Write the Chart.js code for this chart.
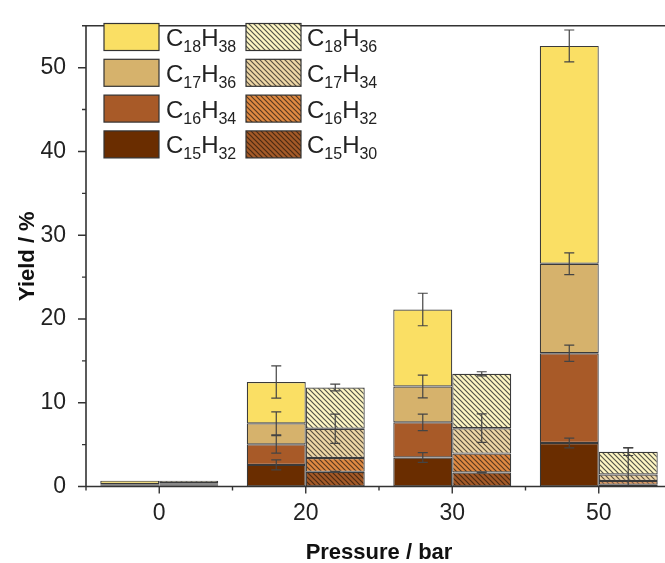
<!DOCTYPE html>
<html><head><meta charset="utf-8">
<script src="https://cdn.jsdelivr.net/npm/chart.js@4.4.0/dist/chart.umd.min.js"></script>
<style>
html,body{margin:0;padding:0;background:#fff;overflow:hidden;}
#wrap{width:680px;height:563px;position:relative;}
</style></head><body>
<div id="wrap"><canvas id="c" width="680" height="563"></canvas></div>
<script>
// ---- data ----
const categories = ['0', '20', '30', '50'];
const seriesNames = ['C15H32', 'C16H34', 'C17H36', 'C18H38', 'C15H30', 'C16H32', 'C17H34', 'C18H36'];
const yTickValues = [0, 10, 20, 30, 40, 50];

// saturated (left bar of each pair)
const C15H32 = [0.10, 2.58, 3.47, 5.2];
const C16H34 = [0.10, 2.45, 4.19, 10.7];
const C17H36 = [0.10, 2.51, 4.27, 10.7];
const C18H38 = [0.40, 4.94, 9.20, 26.0];
// unsaturated (right bar of each pair)
const C15H30 = [0.10, 1.75, 1.67, 0.20];
const C16H32 = [0.10, 1.65, 2.26, 0.46];
const C17H34 = [0.20, 3.49, 3.03, 0.78];
const C18H36 = [0.30, 4.93, 6.49, 2.71];
// error bars (drawn at top of each stacked segment)
const err_C15H32 = [0, 0.6, 0.58, 0.58];
const err_C16H34 = [0, 1.05, 0.98, 0.97];
const err_C17H36 = [0, 1.36, 1.36, 1.3];
const err_C18H38 = [0, 1.92, 1.94, 1.9];
const err_C15H30 = [0, 0.06, 0.06, 0];
const err_C16H32 = [0, 0, 0, 0];
const err_C17H34 = [0, 1.75, 1.7, 3.2];
const err_C18H36 = [0, 0.4, 0.25, 0.45];

// ---- styles ----
function hatch(bg, line) {
  const s = 5, c = document.createElement('canvas');
  c.width = s; c.height = s;
  const x = c.getContext('2d');
  x.fillStyle = bg; x.fillRect(0, 0, s, s);
  x.strokeStyle = line; x.lineWidth = 1.2;
  x.beginPath();
  x.moveTo(-1, -1); x.lineTo(s + 1, s + 1);
  x.moveTo(-1, s - 1); x.lineTo(1, s + 1);
  x.moveTo(s - 1, -1); x.lineTo(s + 1, 1);
  x.stroke();
  return x.createPattern(c, 'repeat');
}
const styles = [
  {bg: '#6a2d00', stack: 's'},
  {bg: '#a85a28', stack: 's'},
  {bg: '#d6b26c', stack: 's'},
  {bg: '#fadf64', stack: 's'},
  {bg: hatch('#a45a28', '#4a2a12'), stack: 'u'},
  {bg: hatch('#e08a42', '#5a3a20'), stack: 'u'},
  {bg: hatch('#eed7a6', '#5a5040'), stack: 'u'},
  {bg: hatch('#fff7c4', '#55554a'), stack: 'u'}
];
const values = [C15H32, C16H34, C17H36, C18H38, C15H30, C16H32, C17H34, C18H36];
const errors = [err_C15H32, err_C16H34, err_C17H36, err_C18H38, err_C15H30, err_C16H32, err_C17H34, err_C18H36];

const FONT = "'Liberation Sans', Arial, sans-serif";

const decorPlugin = {
  id: 'decor',
  afterDatasetsDraw(chart) {
    const ctx = chart.ctx, ca = chart.chartArea;
    const xs = chart.scales.x, ys = chart.scales.y;
    ctx.save();
    // error bars
    ctx.strokeStyle = '#444'; ctx.lineWidth = 1.2;
    const cum = {s: categories.map(() => 0), u: categories.map(() => 0)};
    values.forEach((arr, di) => {
      const meta = chart.getDatasetMeta(di);
      const st = styles[di].stack;
      arr.forEach((v, i) => {
        cum[st][i] += v;
        const e = errors[di][i];
        if (!e) return;
        const x = meta.data[i].x;
        const lo = cum[st][i] - e;
        const y1 = ys.getPixelForValue(cum[st][i] + e);
        const y2 = ys.getPixelForValue(Math.max(0, lo));
        ctx.beginPath();
        ctx.moveTo(x, y1); ctx.lineTo(x, y2);
        ctx.moveTo(x - 5, y1); ctx.lineTo(x + 5, y1);
        if (lo > 0) { ctx.moveTo(x - 5, y2); ctx.lineTo(x + 5, y2); }
        ctx.stroke();
      });
    });
    // frame and axes
    ctx.strokeStyle = '#333'; ctx.lineWidth = 1.6;
    ctx.beginPath();
    ctx.moveTo(ca.left, ca.bottom); ctx.lineTo(ca.left, ca.top);
    ctx.lineTo(ca.right, ca.top); ctx.lineTo(ca.right, ca.bottom);
    ctx.lineTo(ca.left, ca.bottom);
    ctx.stroke();
    // y ticks
    ctx.lineWidth = 1.4;
    ctx.beginPath();
    for (let v = 0; v <= ys.max + 0.01; v += 5) {
      const y = ys.getPixelForValue(v);
      const len = (v % 10 === 0) ? 8 : 4;
      ctx.moveTo(ca.left - len, y); ctx.lineTo(ca.left, y);
    }
    // x ticks
    categories.forEach((c, i) => {
      const x = xs.getPixelForValue(i);
      ctx.moveTo(x, ca.bottom); ctx.lineTo(x, ca.bottom + 7);
      const half = (xs.getPixelForValue(1) - xs.getPixelForValue(0)) / 2;
      ctx.moveTo(x - half, ca.bottom); ctx.lineTo(x - half, ca.bottom + 4);
    });
    ctx.stroke();
    // legend
    const order = [[3, 7], [2, 6], [1, 5], [0, 4]];
    const colX = [104, 246], textX = [166, 307];
    order.forEach((pair, r) => {
      pair.forEach((di, c) => {
        const bx = colX[c], by = 23.5 + r * 35.8;
        ctx.fillStyle = styles[di].bg;
        ctx.fillRect(bx, by, 55, 27);
        ctx.strokeStyle = '#333'; ctx.lineWidth = 1.2;
        ctx.strokeRect(bx, by, 55, 27);
        // text with subscripts
        const name = seriesNames[di];
        let x = textX[c];
        const base = by + 22.5;
        ctx.fillStyle = '#222';
        ctx.textBaseline = 'alphabetic'; ctx.textAlign = 'left';
        name.match(/[A-Z]+|\d+/g).forEach(tok => {
          if (/\d/.test(tok)) {
            ctx.font = '16px ' + FONT;
            ctx.fillText(tok, x, base + 6);
          } else {
            ctx.font = '24px ' + FONT;
            ctx.fillText(tok, x, base);
          }
          x += ctx.measureText(tok).width;
        });
      });
    });
    ctx.restore();
  }
};

new Chart(document.getElementById('c'), {
  type: 'bar',
  data: {
    labels: categories,
    datasets: values.map((arr, di) => ({
      label: seriesNames[di],
      data: arr,
      stack: styles[di].stack,
      backgroundColor: styles[di].bg,
      borderColor: '#3a3a3a',
      borderWidth: 1.2,
      borderSkipped: false,
      categoryPercentage: 0.805,
      barPercentage: 1
    }))
  },
  options: {
    responsive: false,
    animation: false,
    layout: {padding: {left: 0, right: 8, top: 14, bottom: 0}},
    plugins: {legend: {display: false}, tooltip: {enabled: false}},
    scales: {
      x: {
        stacked: true,
        grid: {display: false},
        border: {display: false},
        ticks: {font: {size: 23, family: FONT}, color: '#222', padding: 5},
        title: {display: true, text: 'Pressure / bar', color: '#111',
                font: {size: 22, weight: 'bold', family: FONT}, padding: {top: 0, bottom: -3}},
        afterFit(s) { s.height = 76.5; }
      },
      y: {
        stacked: true,
        min: 0, max: 55,
        grid: {display: false},
        border: {display: false},
        ticks: {stepSize: 10, font: {size: 23, family: FONT}, color: '#222', padding: 12},
        afterBuildTicks(s) { s.ticks = yTickValues.map(v => ({value: v})); },
        title: {display: true, text: 'Yield / %', color: '#111',
                font: {size: 22, weight: 'bold', family: FONT}, padding: {top: 15, bottom: 0}},
        afterFit(s) { s.width = 86; }
      }
    }
  },
  plugins: [decorPlugin]
});
</script>
</body></html>
